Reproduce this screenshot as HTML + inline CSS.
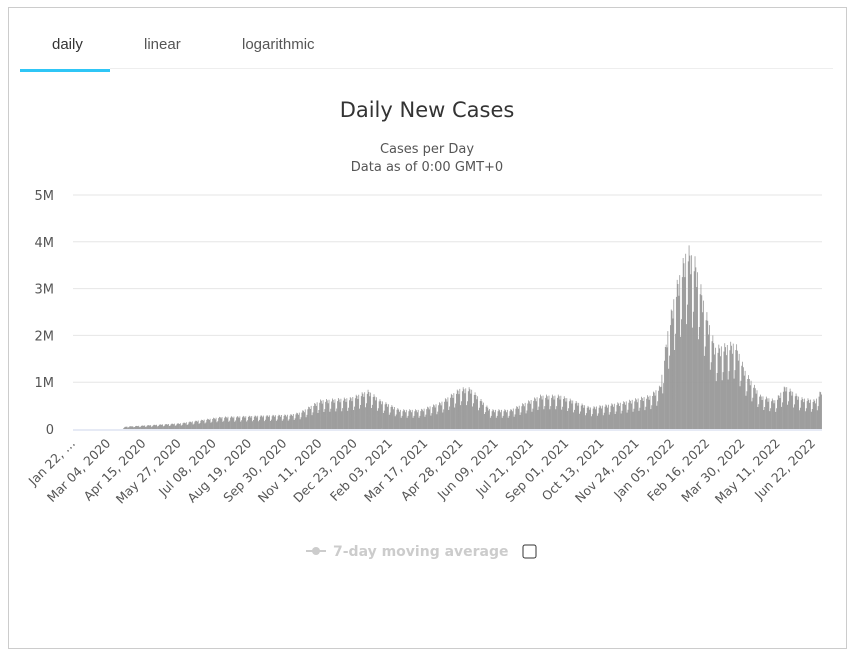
<!DOCTYPE html>
<html><head><meta charset="utf-8"><style>
html,body{margin:0;padding:0;background:#fff;}
body{width:848px;height:619px;position:relative;overflow:hidden;font-family:"Liberation Sans",sans-serif;}
.box{position:absolute;left:8px;top:7px;width:837px;height:640px;border:1px solid #ccc;}
.tab{position:absolute;top:36px;font-size:15px;color:#555;}
</style></head><body>
<div class="box"></div>
<div class="tab" style="left:52px;color:#333">daily</div>
<div class="tab" style="left:144px">linear</div>
<div class="tab" style="left:242px">logarithmic</div>
<div style="position:absolute;left:20px;top:69px;width:90px;height:3px;background:#2fc6f6"></div>
<div style="position:absolute;left:110px;top:68px;width:723px;height:1px;background:#eee"></div>
<svg id="s" width="848" height="619" style="position:absolute;left:0;top:0" font-family="DejaVu Sans, sans-serif">
<text x="427" y="117" text-anchor="middle" font-size="21" fill="#333">Daily New Cases</text>
<text x="427" y="153" text-anchor="middle" font-size="13" fill="#555">Cases per Day</text>
<text x="427" y="171" text-anchor="middle" font-size="13" fill="#555">Data as of 0:00 GMT+0</text>
<g id="grid"></g><g id="bars"></g><g id="xl"></g>
<line x1="73" y1="430" x2="822" y2="430" stroke="#ccd6eb" stroke-width="1"/>
<g fill="#ccc"><line x1="306" y1="551" x2="326" y2="551" stroke="#ccc" stroke-width="2"/><circle cx="316" cy="551" r="4"/></g>
<text x="333" y="556" font-size="14" font-weight="bold" fill="#ccc">7-day moving average</text>
<rect x="523" y="545" width="13" height="13" rx="2" fill="#fff" stroke="#333" stroke-width="1"/>
</svg>
<script>
var ns="http://www.w3.org/2000/svg",g=document.getElementById('grid');
function el(t,a,p,txt){var e=document.createElementNS(ns,t);for(var k in a)e.setAttribute(k,a[k]);if(txt)e.textContent=txt;p.appendChild(e);return e;}
var labs=["0","1M","2M","3M","4M","5M"];
for(var i=0;i<6;i++){var y=429-i*46.8;if(i>0)el('line',{x1:73,x2:822,y1:y,y2:y,stroke:'#e6e6e6'},g);el('text',{x:54,y:y+5,'text-anchor':'end','font-size':13,fill:'#555'},g,labs[i]);}
var P=[[73,0],[122,0],[125,.05],[180,.12],[220,.25],[290,.3],[300,.35],[320,.6],[350,.65],[368,.8],[380,.6],[400,.4],[420,.4],[440,.55],[460,.85],[470,.85],[490,.4],[510,.4],[540,.7],[560,.7],[590,.45],[620,.55],[650,.7],[660,.9],[667,2.0],[675,2.9],[687,3.8],[695,3.5],[705,2.5],[715,1.7],[735,1.8],[745,1.2],[760,.7],[775,.6],[785,.9],[800,.65],[815,.6],[822,.85]];
function v(x){for(var i=1;i<P.length;i++)if(x<=P[i][0]){var a=P[i-1],b=P[i];return a[1]+(b[1]-a[1])*(x-a[0])/(b[0]-a[0]);}return .85;}
var b=document.getElementById('bars'),d="";
var f=[1.02,0.6,0.7,0.95,1.05,1.0,0.9];
for(var k=0;k<882;k++){var x=73+k*749/882,val=v(x)*f[k%7];var h=val*46.8;if(h<0.5)continue;d+="M"+x.toFixed(2)+" 429v"+(-h).toFixed(1)+"h0.8v"+h.toFixed(1)+"z";}
el('path',{d:d,fill:'#999'},b);
var xs=["Jan 22, …","Mar 04, 2020","Apr 15, 2020","May 27, 2020","Jul 08, 2020","Aug 19, 2020","Sep 30, 2020","Nov 11, 2020","Dec 23, 2020","Feb 03, 2021","Mar 17, 2021","Apr 28, 2021","Jun 09, 2021","Jul 21, 2021","Sep 01, 2021","Oct 13, 2021","Nov 24, 2021","Jan 05, 2022","Feb 16, 2022","Mar 30, 2022","May 11, 2022","Jun 22, 2022"];
var xl=document.getElementById('xl');
var n=xs.length-1,step=(816-76)/n;
for(var i=0;i<xs.length;i++){var ex=76+i*step,ey=444;el('text',{x:ex,y:ey,'text-anchor':'end','font-size':12.5,fill:'#555',transform:'rotate(-45 '+ex+' '+ey+')'},xl,xs[i]);}
</script>
</body></html>
